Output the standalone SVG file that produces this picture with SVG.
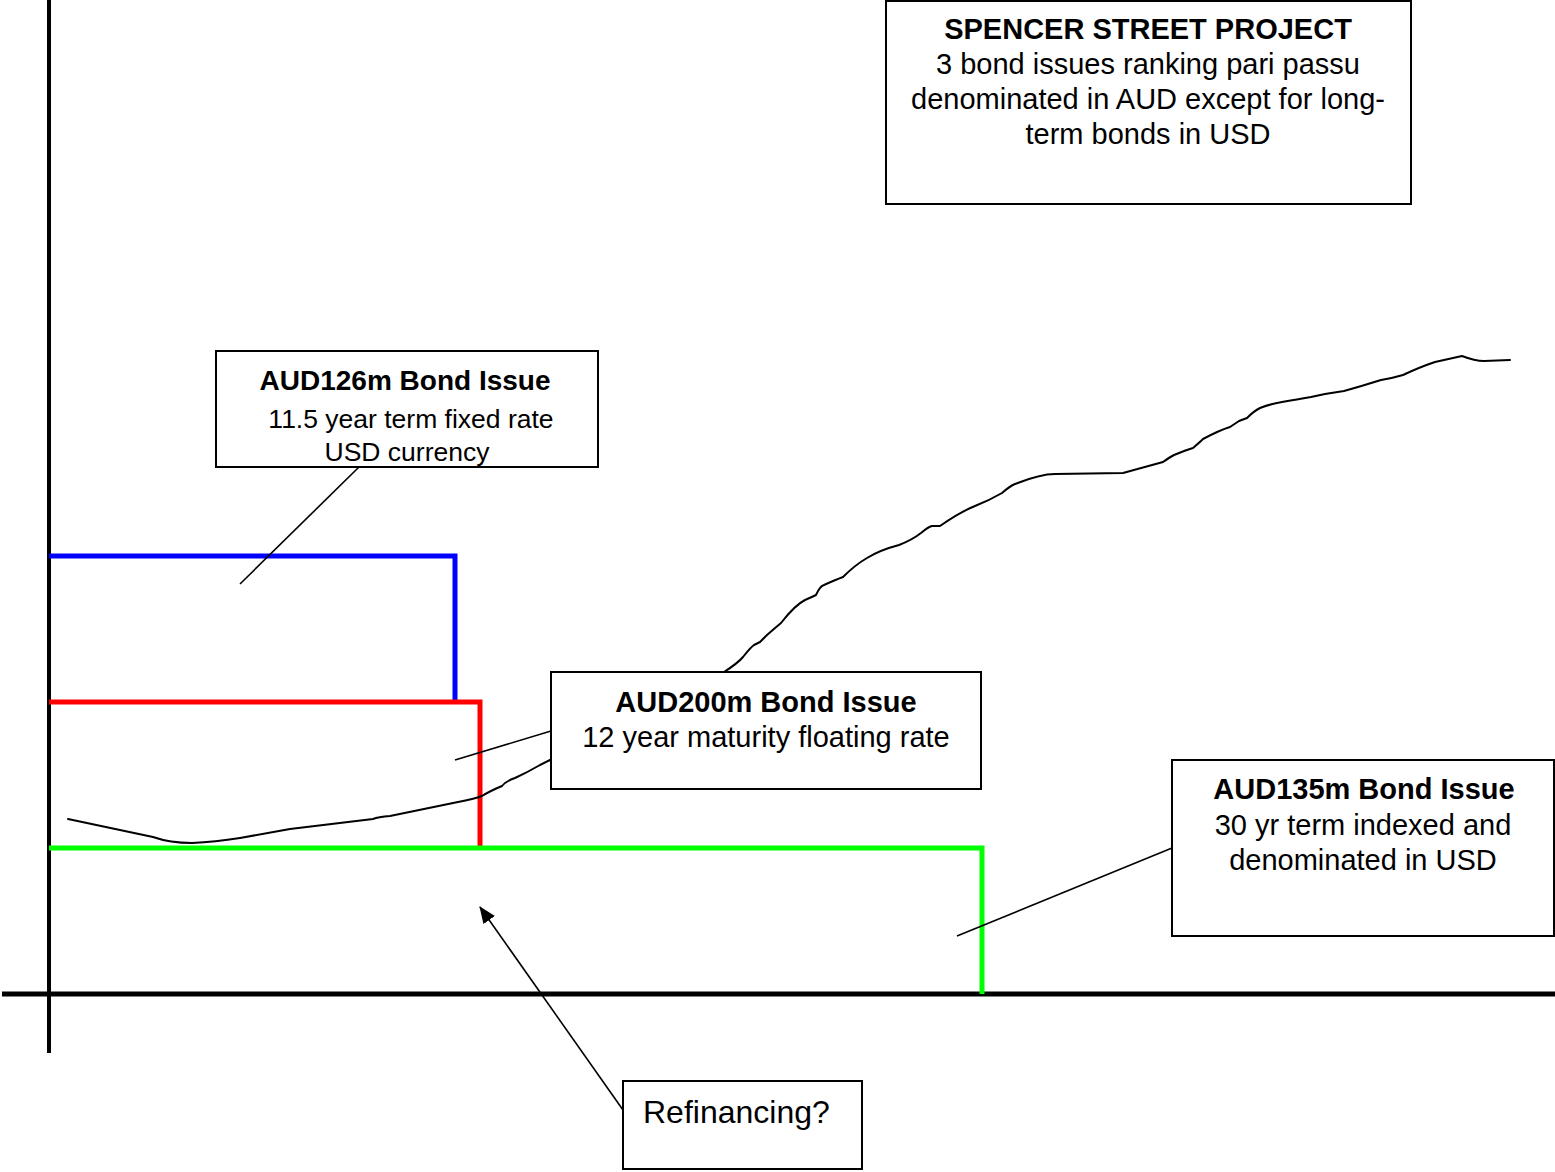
<svg xmlns="http://www.w3.org/2000/svg" width="1555" height="1172" viewBox="0 0 1555 1172">
<style>
  .box { fill: #ffffff; stroke: #000000; stroke-width: 2; }
  .t { font-family: "Liberation Sans", Arial, sans-serif; fill: #000000; text-anchor: middle; }
  .b { font-weight: bold; }
  .lead { stroke: #000000; stroke-width: 1.6; fill: none; }
  .axis { stroke: #000000; fill: none; }
  .step { fill: none; stroke-width: 5; stroke-linejoin: miter; }
  .curve { fill: none; stroke: #000000; stroke-width: 2; stroke-linejoin: round; stroke-linecap: round; }
</style>
<defs>
  <marker id="arrow" markerWidth="17" markerHeight="14" refX="16" refY="7" orient="auto" markerUnits="userSpaceOnUse" viewBox="0 0 17 14">
    <path d="M0,0 L17,7 L0,14 z" fill="#000000"/>
  </marker>
</defs>
<rect width="1555" height="1172" fill="#ffffff"/>

<g id="axes">
  <line class="axis" x1="49" y1="0" x2="49" y2="1053" stroke-width="4"/>
  <line class="axis" x1="2" y1="994" x2="1555" y2="994" stroke-width="5"/>
</g>

<g id="bond-steps">
  <polyline class="step" stroke="#0000ff" points="49,556 455,556 455,702"/>
  <polyline class="step" stroke="#ff0000" points="49,702 480,702 480,848"/>
  <polyline class="step" stroke="#00ff00" points="49,848 982,848 982,994"/>
</g>

<g id="connectors">
  <path class="curve" d="M68,819 L153,837 Q170,843 192,843 Q215,842 240,838 L290,829 L373,819 Q378,817 390,816 L458,802 Q474,799 482,796 Q490,791 502,786 Q506,781 515,778 Q528,772 540,765 L550,760 L640,715 L724,672 Q738,663 743,657 Q750,648 754,645 L760,642 L767,635 Q775,628 781,623 Q795,605 805,600 Q812,597 816,595 Q820,586 824,585 Q835,580 843,577 Q855,565 867,558 Q880,550 899,545 Q912,540 921,533 Q928,527 932,526 L940,526 Q960,512 975,506 Q990,500 1002,493 Q1010,486 1015,484 Q1040,474 1055,474 L1123,473 Q1145,467 1163,462 Q1170,457 1174,455 Q1186,450 1193,448 Q1200,442 1203,439 Q1220,430 1230,427 Q1236,423 1239,421 L1247,418 Q1254,411 1260,408 Q1270,404 1282,402 Q1300,399 1311,397 L1325,394 L1344,391 Q1362,386 1381,380 Q1393,378 1403,375 Q1420,367 1435,362 L1462,356 Q1475,361 1484,361 L1510,360"/>
  <line class="lead" x1="359" y1="467" x2="240" y2="584"/>
  <line class="lead" x1="551" y1="731" x2="455" y2="760"/>
  <line class="lead" x1="1172" y1="848" x2="957" y2="936"/>
  <line class="lead" x1="623" y1="1110" x2="480" y2="907" marker-end="url(#arrow)"/>
</g>

<g id="spencer-street-project">
  <rect class="box" x="886" y="1" width="525" height="203"/>
  <text class="t b" x="1148" y="39" font-size="29">SPENCER STREET PROJECT</text>
  <text class="t" x="1148" y="74" font-size="29">3 bond issues ranking pari passu</text>
  <text class="t" x="1148" y="109" font-size="29">denominated in AUD except for long-</text>
  <text class="t" x="1148" y="144" font-size="29">term bonds in USD</text>
</g>

<g id="aud126m">
  <rect class="box" x="216" y="351" width="382" height="116"/>
  <text class="t b" x="405" y="390" font-size="28">AUD126m Bond Issue</text>
  <text class="t" x="411" y="428" font-size="26.5">11.5 year term fixed rate</text>
  <text class="t" x="407" y="461" font-size="26.5">USD currency</text>
</g>

<g id="aud200m">
  <rect class="box" x="551" y="672" width="430" height="117"/>
  <text class="t b" x="766" y="712" font-size="29">AUD200m Bond Issue</text>
  <text class="t" x="766" y="747" font-size="29">12 year maturity floating rate</text>
</g>

<g id="aud135m">
  <rect class="box" x="1172" y="760" width="382" height="176"/>
  <text class="t b" x="1364" y="799" font-size="29">AUD135m Bond Issue</text>
  <text class="t" x="1363" y="835" font-size="29">30 yr term indexed and</text>
  <text class="t" x="1363" y="870" font-size="29">denominated in USD</text>
</g>

<g id="refinancing">
  <rect class="box" x="623" y="1081" width="239" height="88"/>
  <text class="t" x="643" y="1123" font-size="32" style="text-anchor:start">Refinancing?</text>
</g>
</svg>
